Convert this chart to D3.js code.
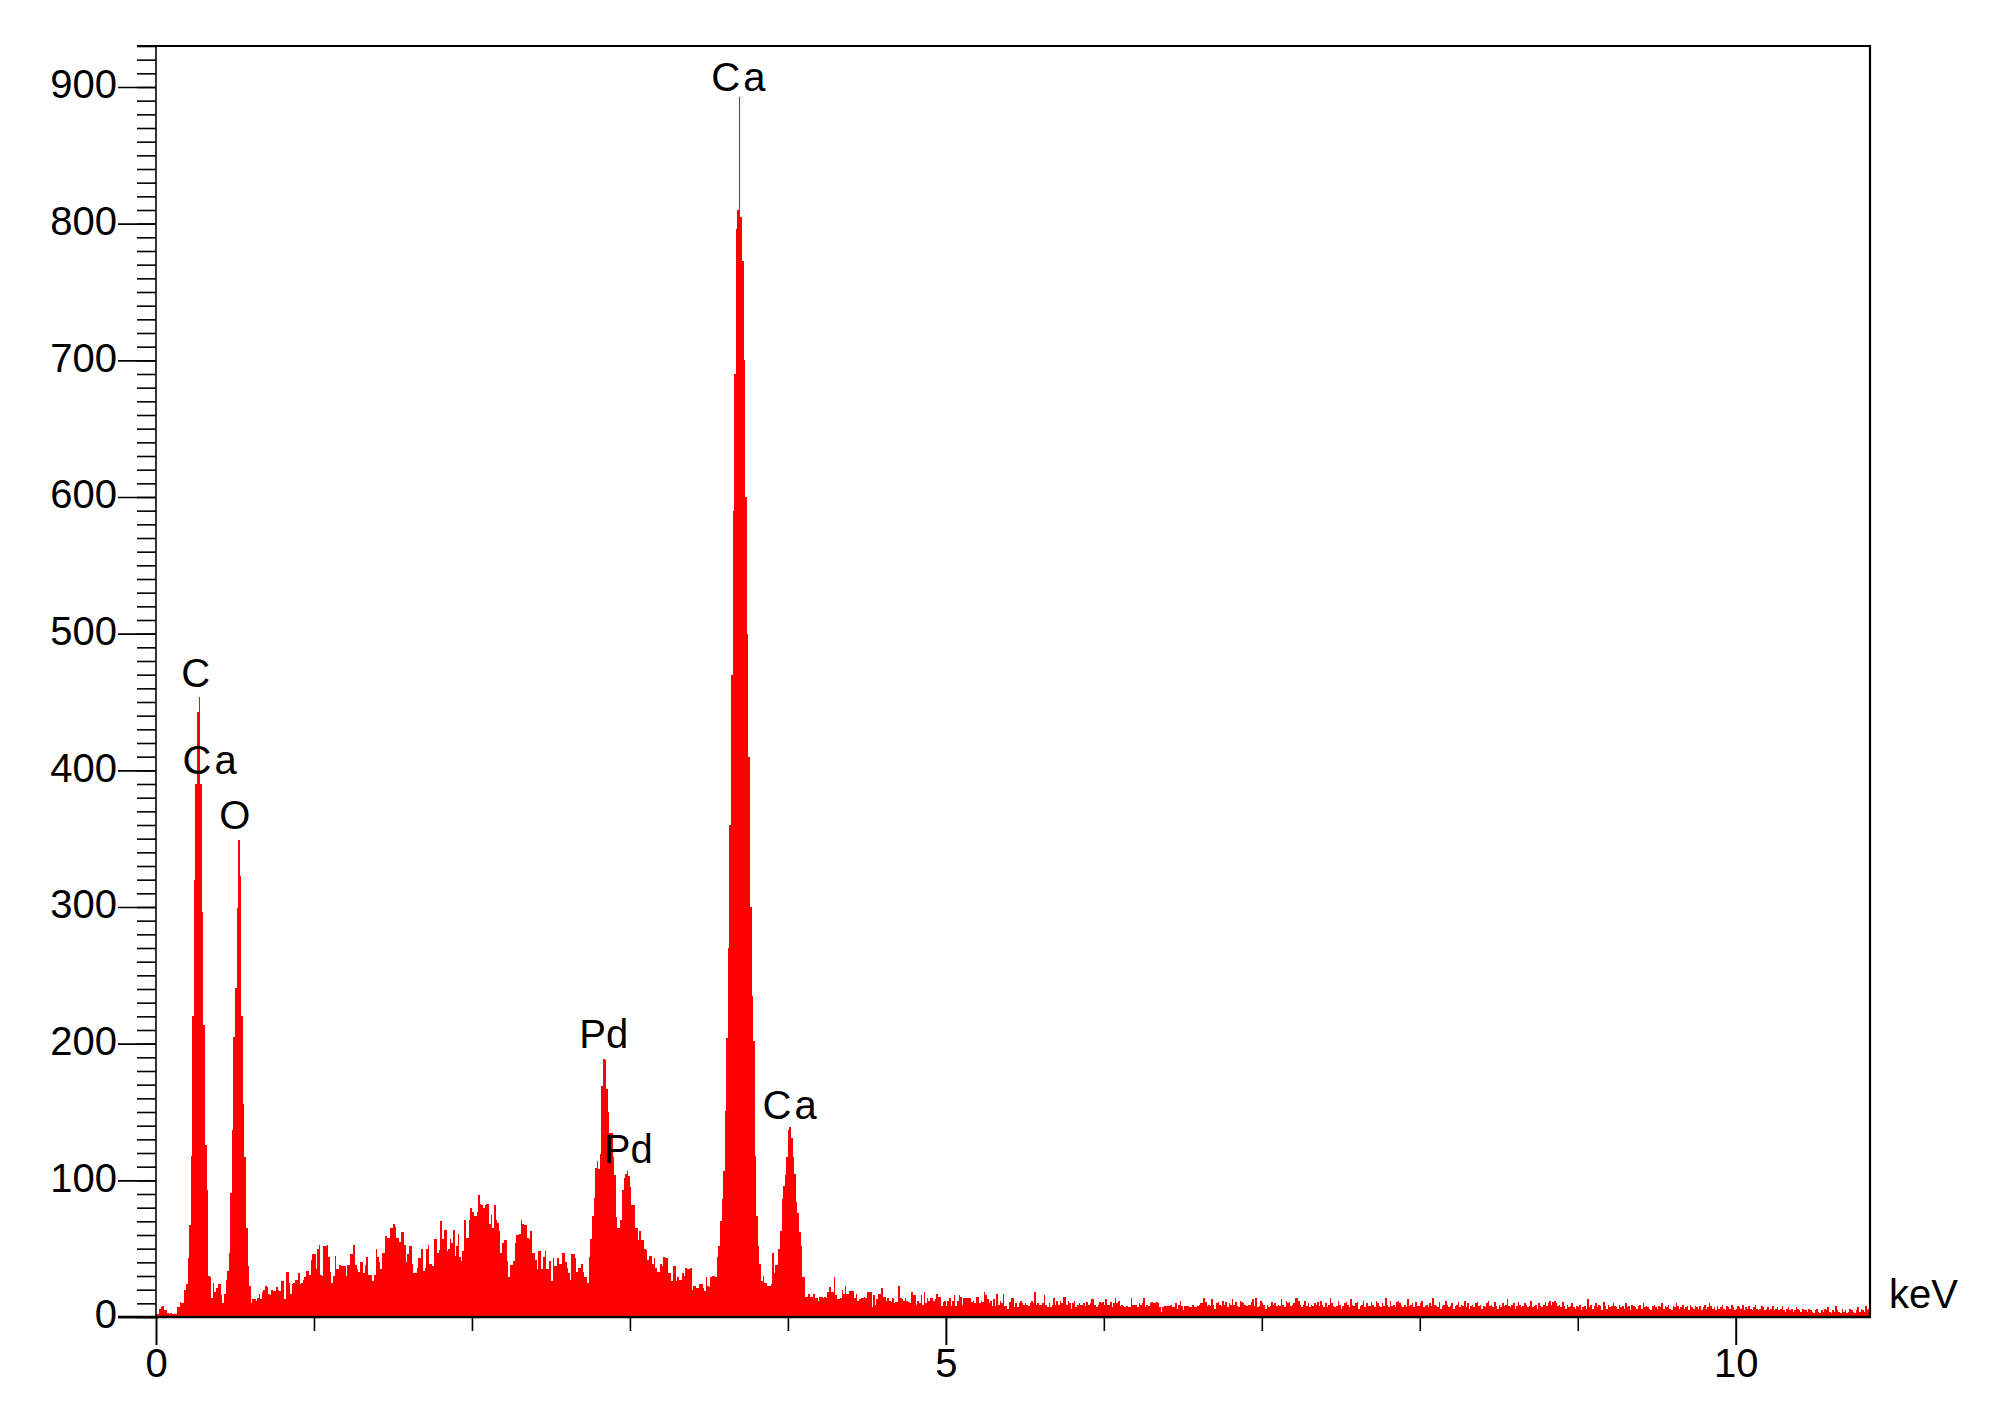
<!DOCTYPE html>
<html>
<head>
<meta charset="utf-8">
<script src="https://cdn.jsdelivr.net/npm/d3@7"></script>
<style>
  html, body { margin: 0; padding: 0; background: #fff; }
  svg { display: block; }
  text { font-family: "Liberation Sans", Arial, Helvetica, sans-serif; }
</style>
</head>
<body>
<svg id="chart" width="1989" height="1422"></svg>
<script>
// ---------------- DATA ----------------
const channelWidth = 0.01; // keV per channel
const energyMax = 10.85;   // keV, right edge of plot
const countMax = 930;      // top of y axis

// counts per channel, segments with their first channel index
const segLowStart = 0; // 0.00 - 1.60 keV : C, O peaks and background
const segLow = [
  2,2,6,7,8,5,5,3,2,3,2,2,2,7,7,11,10,10,20,24,43,67,
  118,220,320,390,443,454,390,296,214,126,93,30,29,
  14,25,18,21,24,24,16,10,17,27,34,47,
  91,137,205,241,299,349,323,220,156,117,65,37,23,
  10,13,13,12,14,17,13,18,20,23,22,17,16,20,19,19,22,20,19,26,
  26,13,33,33,25,17,24,25,27,27,32,24,25,27,29,34,34,31,42,46,
  46,35,50,53,31,30,52,52,53,44,33,25,30,45,35,35,38,37,37,37,
  30,38,38,46,46,53,38,35,33,40,40,32,38,44,31,31,31,26,31,50,
  44,40,35,47,47,59,58,58,65,65,68,66,58,58,55,62,62,53,40,46,52
];
const segMidStart = 161; // 1.61 - 2.79 keV : broad background hump
const segMid = [
  52,39,32,32,36,43,43,50,34,36,50,53,39,39,37,57,57,47,49,
  70,57,64,64,48,50,57,54,64,45,52,61,44,41,48,71,58,58,71,80,
  77,74,74,77,89,83,82,80,82,83,83,68,75,65,82,71,69,63,47,54,
  56,56,41,29,38,38,41,54,60,60,61,71,68,67,67,58,57,63,47,47,
  42,35,48,48,35,44,48,35,35,41,26,43,37,37,43,39,39,47,47,40,
  36,32,27,46,46,43,33,36,36,39,33,29,29,25,44,57,74,87,109,114
];
const segPdStart = 280; // 2.80 - 3.58 keV : Pd L lines
const segPd = [
  108,119,169,189,188,167,150,135,135,117,104,73,65,65,71,93,102,105,107,103,
  95,82,82,65,65,56,63,56,56,50,49,42,45,45,39,43,36,33,33,39,
  37,44,43,43,32,32,26,37,37,26,29,27,27,32,30,36,35,35,
  36,20,23,23,21,21,24,24,21,19,29,23,22,29,30,30,29,44,52,70,86
];
const segCaStart = 359; // 3.59 - 4.10 keV : Ca K alpha / K beta
const segCa = [
  107,151,204,270,360,470,590,690,796,810,893,805,773,700,600,500,410,300,235,202,118,74,
  52,39,26,30,25,25,23,23,24,47,32,38,38,50,63,86,96,104,117,137,
  139,131,117,105,84,76,62,52,29,29
];
const segTailStart = 411; // 4.11 - 10.85 keV : background
const segTail = [
  15,15,17,15,15,17,14,14,12,15,15,14,15,14,18,22,18,18,29,16,
  13,13,14,20,17,23,17,17,19,19,19,14,17,12,13,14,14,15,14,18,
  18,18,7,16,9,13,17,17,21,15,15,12,14,12,11,14,10,11,11,23,
  14,13,12,14,12,
  11,10,18,16,16,9,12,10,16,9,18,10,14,12,14,14,12,13,17,15,15,8,11,12,8,12,14,8,12,16,8,12,16,15,9,14,14,14,14,14,11,12,10,15,15,10,12,11,18,16,
  13,10,12,8,13,8,17,9,12,10,17,8,8,6,11,14,14,7,10,7,10,12,10,9,10,9,8,10,12,10,18,9,10,9,9,10,16,9,7,10,7,9,14,9,12,9,12,10,15,15,
  9,12,10,6,10,12,7,9,10,9,9,10,8,11,9,10,13,13,9,7,9,11,10,11,9,13,9,9,11,7,10,14,10,12,8,9,8,7,8,7,7,14,9,9,9,7,10,9,10,14,
  7,9,8,10,11,10,10,11,10,7,4,7,8,8,8,8,9,7,7,10,6,9,12,8,5,8,8,8,7,7,9,7,7,8,9,10,10,14,11,8,9,8,13,9,6,10,11,9,8,12,
  9,11,7,10,9,13,9,11,8,7,12,11,10,9,8,9,9,11,13,8,14,7,8,12,10,9,6,9,7,8,11,9,10,8,9,8,13,9,7,12,10,11,8,9,10,14,14,12,9,7,
  9,12,8,10,7,9,8,10,9,11,8,12,9,7,10,7,9,14,10,8,7,8,12,9,6,8,10,11,9,7,13,9,8,10,11,6,8,9,12,7,10,8,8,11,9,7,12,10,8,7,
  10,8,14,9,7,12,8,9,7,11,12,10,8,7,9,7,13,8,9,10,7,11,8,8,10,12,7,8,9,7,10,8,14,9,8,7,11,6,8,9,12,9,7,8,10,6,8,9,11,7,
  9,8,12,7,10,6,8,9,7,10,11,8,9,6,8,7,10,12,8,9,7,11,8,6,9,7,10,8,9,13,8,7,9,10,6,8,11,9,7,8,10,9,7,8,12,7,8,9,6,10,
  8,7,9,11,8,10,12,9,11,12,10,8,9,7,11,8,6,9,7,8,10,7,6,8,7,9,5,7,8,6,13,7,9,6,8,10,7,9,8,5,11,8,6,9,7,8,10,8,7,6,
  9,7,8,6,10,7,8,5,9,8,7,6,8,9,6,10,7,8,7,6,5,8,9,7,6,8,7,10,6,8,7,9,6,5,8,7,10,8,6,7,9,6,7,8,5,9,7,6,8,7,
  6,8,5,7,9,6,7,10,8,6,7,5,8,6,7,9,6,5,8,7,6,9,7,5,6,8,7,6,9,5,7,6,8,6,5,7,9,6,5,6,8,7,5,6,7,5,6,8,5,6,
  7,5,6,8,5,4,6,7,5,6,4,5,7,6,5,4,6,5,5,4,6,5,4,3,5,6,4,3,5,4,6,5,7,4,3,5,4,8,5,4,3,6,4,5,3,4,6,5,4,3,5,7,4,6,5,4,8,5,6
];

// tick definitions
const yMajorTicks = [0, 100, 200, 300, 400, 500, 600, 700, 800, 900];
const yMinorTicks = d3.range(0, 931, 10);
const xMajorTicks = [0, 5, 10];
const xMinorTicks = [1, 2, 3, 4, 6, 7, 8, 9];
const xUnit = "keV";

// peak labels: text, energy at label's left edge (keV), count at label baseline
const peakLabels = [
  { text: "C",  e: 0.16,  v: 461 },
  { text: "Ca", e: 0.168, v: 397 },
  { text: "O",  e: 0.40,  v: 357 },
  { text: "Pd", e: 2.68,  v: 197 },
  { text: "Pd", e: 2.835, v: 113 },
  { text: "Ca", e: 3.515, v: 897 },
  { text: "Ca", e: 3.84,  v: 145 }
];

// ---------------- BUILD ----------------
const segments = [
  [segLowStart, segLow], [segMidStart, segMid], [segPdStart, segPd],
  [segCaStart, segCa], [segTailStart, segTail]
];
const bins = [];
segments.forEach(([start, arr]) => {
  arr.forEach((v, j) => bins.push({ ch: start + j, v }));
});
bins.sort((a, b) => a.ch - b.ch);
const data = [];
bins.forEach(b => {
  const e = b.ch * channelWidth;
  if (e < energyMax - 1e-9) data.push({ e, v: b.v });
});
data.push({ e: Math.min(energyMax, data[data.length - 1].e + channelWidth), v: data[data.length - 1].v });

const svg = d3.select("#chart");
svg.append("rect").attr("width", 1989).attr("height", 1422).attr("fill", "#fff");

const plotLeft = 156, plotRight = 1870, plotTop = 46, plotBottom = 1317;
const x = d3.scaleLinear().domain([0, energyMax]).range([plotLeft, plotRight]);
const y = d3.scaleLinear().domain([0, countMax]).range([plotBottom, plotTop]);

// spectrum
const area = d3.area()
  .x(d => x(d.e))
  .y0(y(0))
  .y1(d => y(d.v))
  .curve(d3.curveStepAfter);
svg.append("path")
  .datum(data)
  .attr("d", area)
  .attr("fill", "#ff0000")
  .attr("stroke", "none")
  .attr("shape-rendering", "crispEdges");

// Y axis minor ticks
const yMinor = svg.append("g").attr("transform", `translate(${plotLeft},0)`)
  .call(d3.axisLeft(y).tickValues(yMinorTicks).tickSize(19).tickFormat(""));
yMinor.select(".domain").remove();
yMinor.selectAll("line").attr("stroke", "#000").attr("stroke-width", 1.6);

// Y axis major ticks + labels
const yMajor = svg.append("g").attr("transform", `translate(${plotLeft},0)`)
  .call(d3.axisLeft(y).tickValues(yMajorTicks).tickSize(38).tickPadding(1).tickFormat(d3.format("d")));
yMajor.select(".domain").remove();
yMajor.selectAll("line").attr("stroke", "#000").attr("stroke-width", 1.6);
yMajor.selectAll("text")
  .attr("font-size", 40).attr("fill", "#000")
  .attr("font-family", '"Liberation Sans", Arial, sans-serif')
  .attr("dy", "0.27em");

// X axis minor ticks
const xMinor = svg.append("g").attr("transform", `translate(0,${plotBottom})`)
  .call(d3.axisBottom(x).tickValues(xMinorTicks).tickSize(14).tickFormat(""));
xMinor.select(".domain").remove();
xMinor.selectAll("line").attr("stroke", "#000").attr("stroke-width", 1.6);

// X axis major ticks + labels
const xMajor = svg.append("g").attr("transform", `translate(0,${plotBottom})`)
  .call(d3.axisBottom(x).tickValues(xMajorTicks).tickSize(28).tickPadding(4).tickFormat(d3.format("d")));
xMajor.select(".domain").remove();
xMajor.selectAll("line").attr("stroke", "#000").attr("stroke-width", 2);
xMajor.selectAll("text")
  .attr("font-size", 40).attr("fill", "#000")
  .attr("font-family", '"Liberation Sans", Arial, sans-serif');

// frame
svg.append("line").attr("x1", plotLeft).attr("x2", plotLeft).attr("y1", plotTop).attr("y2", plotBottom)
  .attr("stroke", "#000").attr("stroke-width", 1.6);
svg.append("line").attr("x1", plotLeft - 19).attr("x2", plotRight + 1).attr("y1", plotTop).attr("y2", plotTop)
  .attr("stroke", "#000").attr("stroke-width", 2.2);
svg.append("line").attr("x1", plotRight).attr("x2", plotRight).attr("y1", plotTop).attr("y2", plotBottom)
  .attr("stroke", "#000").attr("stroke-width", 2.2);
svg.append("line").attr("x1", plotLeft - 38).attr("x2", plotRight + 1).attr("y1", plotBottom).attr("y2", plotBottom)
  .attr("stroke", "#000").attr("stroke-width", 2.6);

// unit label
svg.append("text")
  .attr("x", plotRight + 19).attr("y", plotBottom - 9)
  .attr("font-size", 40).attr("fill", "#000")
  .text(xUnit);

// peak labels
svg.append("g").selectAll("text")
  .data(peakLabels)
  .join("text")
  .attr("x", d => x(d.e))
  .attr("y", d => y(d.v))
  .attr("font-size", 40)
  .attr("fill", "#000")
  .attr("letter-spacing", d => d.text === "Ca" ? 3 : 0)
  .text(d => d.text);
</script>
</body>
</html>
